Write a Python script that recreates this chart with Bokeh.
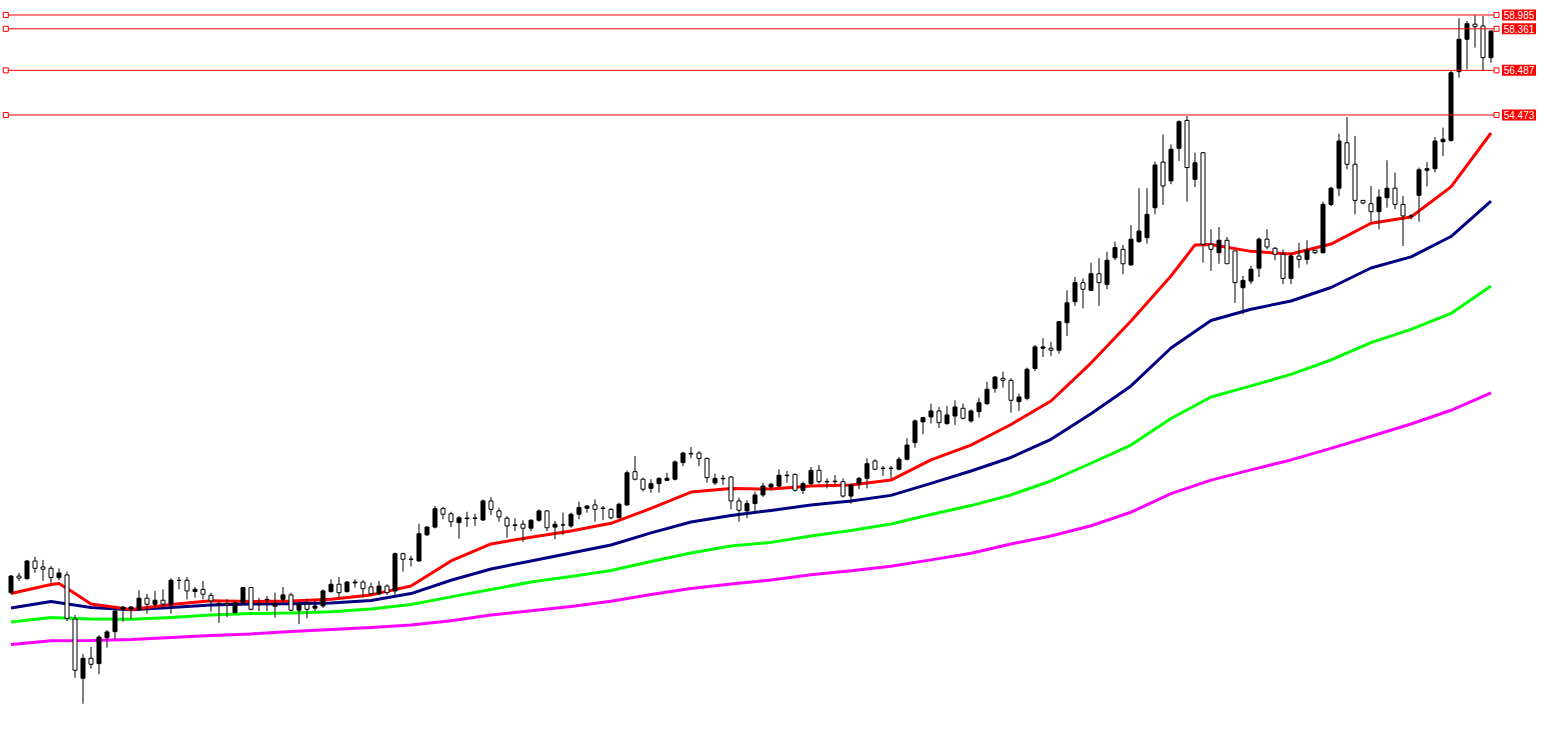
from bokeh.plotting import figure
from bokeh.models import Range1d, ColumnDataSource
from bokeh.core.properties import value
from bokeh.embed import file_html
from bokeh.resources import INLINE

# ---- candle data ----
opens = [32.92,33.67,33.55,34.35,34.08,34.02,33.60,33.72,31.73,29.06,
         29.96,29.72,30.89,31.16,32.17,32.18,32.17,32.67,32.40,32.58,
         32.40,33.48,33.48,32.97,33.07,32.80,32.43,32.43,32.02,32.47,
         33.15,32.40,32.60,32.31,32.62,32.82,32.13,32.40,32.22,32.32,
         32.97,33.30,32.97,33.36,33.40,33.18,32.87,33.22,33.00,34.68,
         34.42,34.35,35.53,35.88,36.71,36.48,36.08,36.26,36.27,36.20,
         37.06,36.61,36.28,35.95,36.01,35.83,36.19,36.61,35.88,35.97,
         35.93,36.46,36.73,36.88,36.72,36.68,36.30,36.88,38.38,38.04,
         37.63,37.84,37.99,38.04,38.79,39.18,39.22,38.98,37.87,38.06,
         38.14,37.06,36.61,36.94,37.33,37.69,37.73,38.20,38.26,37.54,
         37.84,38.44,37.92,37.93,37.93,37.28,37.84,38.08,38.86,38.52,
         38.52,38.49,38.94,39.69,40.63,40.85,41.12,40.55,40.89,41.24,
         40.67,41.09,41.45,42.14,42.59,42.50,41.54,41.69,43.04,43.95,
         43.95,43.86,45.10,46.05,46.91,46.56,47.31,46.83,48.03,48.41,
         47.71,48.76,48.94,50.29,52.35,51.50,52.97,54.23,51.57,52.77,
         48.64,48.26,48.82,48.34,46.68,46.98,47.56,48.87,48.46,48.19,
         47.10,48.11,47.96,48.37,48.26,50.44,51.17,53.22,52.25,50.62,
         50.47,50.11,50.74,51.17,50.44,49.92,50.85,51.98,52.05,53.27,
         53.33,56.43,57.89,58.57,58.49,57.06]
highs = [33.72,33.82,34.40,34.54,34.40,34.12,34.02,33.87,31.91,30.15,
         30.47,31.00,31.23,32.24,32.32,32.32,33.03,32.87,33.00,33.07,
         33.57,33.63,33.63,33.18,33.45,32.92,32.55,32.62,32.55,33.18,
         33.18,32.69,32.77,32.92,33.18,32.92,32.47,32.62,32.55,33.07,
         33.52,33.63,33.45,33.52,33.48,33.37,33.45,33.30,34.73,34.73,
         34.58,36.03,35.93,36.83,36.79,36.57,36.38,36.57,36.48,37.13,
         37.24,36.75,36.38,36.28,36.19,36.23,36.68,36.64,36.16,36.53,
         36.53,37.03,36.88,37.13,36.83,36.73,36.98,38.44,39.09,38.11,
         38.04,38.11,38.33,38.89,39.28,39.49,39.31,39.01,38.29,38.23,
         38.18,37.21,37.09,37.48,37.88,37.88,38.49,38.41,38.29,37.93,
         38.59,38.68,38.08,38.23,38.08,37.84,38.14,38.98,38.94,38.64,
         38.64,39.04,39.89,40.74,40.85,41.45,41.30,41.34,41.60,41.45,
         41.19,41.72,42.44,42.70,42.89,42.59,41.90,43.07,44.10,44.40,
         44.24,45.18,46.56,47.16,47.10,47.81,48.01,48.30,48.76,48.61,
         49.51,51.17,51.17,52.37,53.60,53.15,54.23,54.43,52.77,52.80,
         49.32,49.42,48.97,48.34,47.21,47.66,48.94,49.32,48.52,48.41,
         48.26,48.71,48.82,48.37,50.56,51.23,53.63,54.38,53.53,50.62,
         51.27,51.12,52.43,51.87,50.82,50.00,52.10,52.35,53.48,53.90,
         56.46,58.84,58.71,58.97,58.94,58.29]
lows = [32.86,33.45,33.52,33.82,33.45,33.37,33.48,31.64,29.08,27.91,
        29.49,29.24,30.44,30.82,31.61,31.73,32.09,31.97,32.24,32.24,
        31.97,33.07,32.62,32.69,32.62,32.06,31.56,31.82,31.97,32.40,
        32.13,32.09,32.09,31.79,32.47,32.09,31.51,31.76,32.09,32.24,
        32.92,32.69,32.92,33.15,32.69,32.85,32.82,32.82,32.82,33.87,
        34.10,34.32,35.48,35.82,36.23,35.88,35.36,35.88,35.93,36.16,
        36.42,36.12,35.40,35.70,35.22,35.70,36.12,35.70,35.33,35.52,
        35.85,36.23,36.53,36.12,36.19,36.23,36.28,36.83,37.99,37.48,
        37.43,37.43,37.99,37.99,38.63,38.98,38.63,37.88,37.78,37.78,
        36.68,36.12,36.28,36.57,37.24,37.54,37.69,37.88,37.48,37.38,
        37.78,37.84,37.63,37.81,37.21,36.94,37.59,37.63,38.44,38.19,
        38.08,38.44,38.89,39.46,40.07,40.55,40.35,40.49,40.49,40.74,
        40.59,40.82,41.39,41.94,42.17,41.04,41.12,41.60,42.92,43.55,
        43.60,43.70,44.50,45.86,45.75,46.53,45.86,46.61,47.92,47.29,
        47.66,48.71,48.67,49.99,50.41,51.35,52.40,50.56,51.22,47.81,
        47.44,47.76,47.75,46.00,45.48,46.84,47.16,48.41,47.92,46.84,
        46.84,47.58,47.73,48.19,48.22,50.36,50.82,52.02,49.99,50.44,
        49.66,49.31,50.29,50.22,48.56,49.77,49.66,51.25,51.88,52.62,
        53.27,56.16,56.53,57.51,56.46,56.83]
closes = [33.67,33.58,34.35,34.02,33.98,33.60,33.81,31.76,29.42,29.96,
          29.69,30.92,31.15,32.09,32.27,32.27,32.67,32.40,32.58,32.40,
          33.48,33.47,33.00,33.07,32.85,32.55,32.42,32.37,32.47,33.15,
          32.17,32.38,32.62,32.42,32.82,32.13,32.40,32.17,32.32,33.00,
          33.30,32.92,33.40,33.40,33.10,32.87,33.22,32.92,34.68,34.43,
          34.44,35.58,35.88,36.71,36.46,36.12,36.30,36.29,36.29,37.06,
          36.68,36.34,35.93,35.98,35.83,36.19,36.61,35.85,36.01,35.98,
          36.46,36.76,36.83,36.68,36.74,36.30,36.91,38.33,38.04,37.59,
          37.84,38.08,38.08,38.82,39.22,39.20,38.98,38.11,38.08,38.08,
          37.06,36.64,36.94,37.33,37.73,37.81,38.22,38.22,37.54,37.84,
          38.44,37.93,37.94,37.95,37.28,37.78,38.08,38.74,38.49,38.54,
          38.54,38.94,39.58,40.67,40.82,41.12,40.59,40.94,41.30,40.79,
          41.12,41.49,42.10,42.65,42.50,41.60,41.75,43.00,44.01,44.01,
          43.86,45.15,46.00,46.91,46.61,47.31,46.91,47.92,48.49,47.76,
          48.87,49.24,49.99,52.22,51.27,52.93,54.17,52.10,52.32,48.64,
          48.41,48.82,47.76,46.91,47.01,47.51,48.87,48.52,48.19,47.10,
          48.11,47.96,48.37,48.26,50.44,51.17,53.30,52.25,50.62,50.50,
          50.11,50.77,51.17,50.44,49.92,49.90,52.00,52.05,53.30,53.38,
          56.38,57.89,58.59,58.46,57.06,58.26]

ma_red_idx = [0,5,6,8,10,15,20,25,30,35,40,45,50,55,60,65,70,75,80,85,90,95,
              100,105,110,115,120,125,130,135,140,145,148,150,155,160,165,170,
              175,180,185]
ma_red = [32.88,33.29,33.33,32.88,32.41,32.16,32.39,32.56,32.52,32.54,32.62,
          32.82,33.22,34.35,35.12,35.42,35.70,36.05,36.72,37.46,37.62,37.60,
          37.73,37.78,38.00,38.91,39.58,40.51,41.57,43.28,45.18,47.21,48.61,
          48.63,48.32,48.20,48.65,49.59,49.87,51.23,53.66]
ma_idx = list(range(0, 186, 5))
ma_navy = [32.23,32.52,32.25,32.15,32.25,32.36,32.41,32.42,32.46,32.57,
           32.88,33.48,33.99,34.35,34.71,35.07,35.62,36.11,36.40,36.63,
           36.88,37.06,37.31,37.85,38.41,39.02,39.84,40.99,42.25,43.96,
           45.20,45.71,46.08,46.69,47.57,48.07,48.99,50.59]
ma_green = [31.60,31.80,31.73,31.72,31.80,31.91,31.98,32.00,32.06,32.18,
            32.39,32.73,33.06,33.40,33.65,33.92,34.33,34.71,35.03,35.19,
            35.48,35.73,36.02,36.45,36.85,37.33,37.96,38.76,39.58,40.78,
            41.75,42.25,42.77,43.42,44.20,44.80,45.52,46.76]
ma_magenta = [30.58,30.75,30.76,30.81,30.90,30.99,31.06,31.17,31.26,31.35,
              31.46,31.65,31.91,32.11,32.30,32.53,32.84,33.11,33.31,33.49,
              33.73,33.91,34.11,34.40,34.70,35.12,35.48,35.94,36.55,37.39,
              38.00,38.46,38.91,39.43,39.98,40.53,41.15,41.94]

# ---- horizontal levels ----
levels = [58.985, 58.361, 56.487, 54.473]
level_labels = ["58.985", "58.361", "56.487", "54.473"]

n = len(opens)
idx = list(range(n))

W, H = 1545, 712
x0 = -1.3125
x1 = x0 + W / 8.0
p = figure(width=W, height=H,
           x_range=Range1d(x0, x1), y_range=Range1d(27.514, 59.639),
           x_axis_type=None, y_axis_type=None,
           toolbar_location=None, output_backend="svg",
           min_border=0, min_border_left=0, min_border_right=0,
           min_border_top=0, min_border_bottom=0,
           background_fill_color="white", border_fill_color="white",
           outline_line_color=None)

# MA lines
p.line(ma_idx, ma_magenta, line_color="#FF00FF", line_width=3, line_join="round")
p.line(ma_idx, ma_green, line_color="#00FF00", line_width=3, line_join="round")
p.line(ma_idx, ma_navy, line_color="#000080", line_width=3, line_join="round")
p.line(ma_red_idx, ma_red, line_color="#FF0000", line_width=3, line_join="round")

# candles
tops = [max(o, c) for o, c in zip(opens, closes)]
bots = [min(o, c) for o, c in zip(opens, closes)]
fills = ["black" if c >= o else "white" for o, c in zip(opens, closes)]
src = ColumnDataSource(dict(x=idx, high=highs, low=lows, top=tops, bottom=bots, fill=fills))
p.segment(x0="x", y0="low", x1="x", y1="high", source=src, line_color="black", line_width=1)
p.vbar(x="x", width=0.5, top="top", bottom="bottom", source=src,
       fill_color="fill", line_color="black", line_width=1)

# levels
xsq_l = -0.65
xr = (n - 1) + 0.69
xlab = (n - 1) + 3.5
lsrc = ColumnDataSource(dict(y=levels, txt=level_labels,
                             xl=[xsq_l] * len(levels), xr=[xr] * len(levels),
                             xlab=[xlab] * len(levels)))
p.segment(x0="xl", y0="y", x1="xr", y1="y", source=lsrc, line_color="#FF0000", line_width=1)
p.scatter(x="xl", y="y", source=lsrc, marker="square", size=5,
          fill_color="white", line_color="#FF0000", line_width=1)
p.scatter(x="xr", y="y", source=lsrc, marker="square", size=5,
          fill_color="white", line_color="#FF0000", line_width=1)
p.rect(x="xlab", y="y", width=34, height=11, width_units="screen", height_units="screen",
       source=lsrc, fill_color="#FF0000", line_color=None)
p.text(x="xlab", y="y", text="txt", source=lsrc, text_color="white",
       text_font=value("Liberation Sans"), text_font_size="10px",
       text_align="center", text_baseline="middle")

open("out.html", "w").write(file_html(p, INLINE))
